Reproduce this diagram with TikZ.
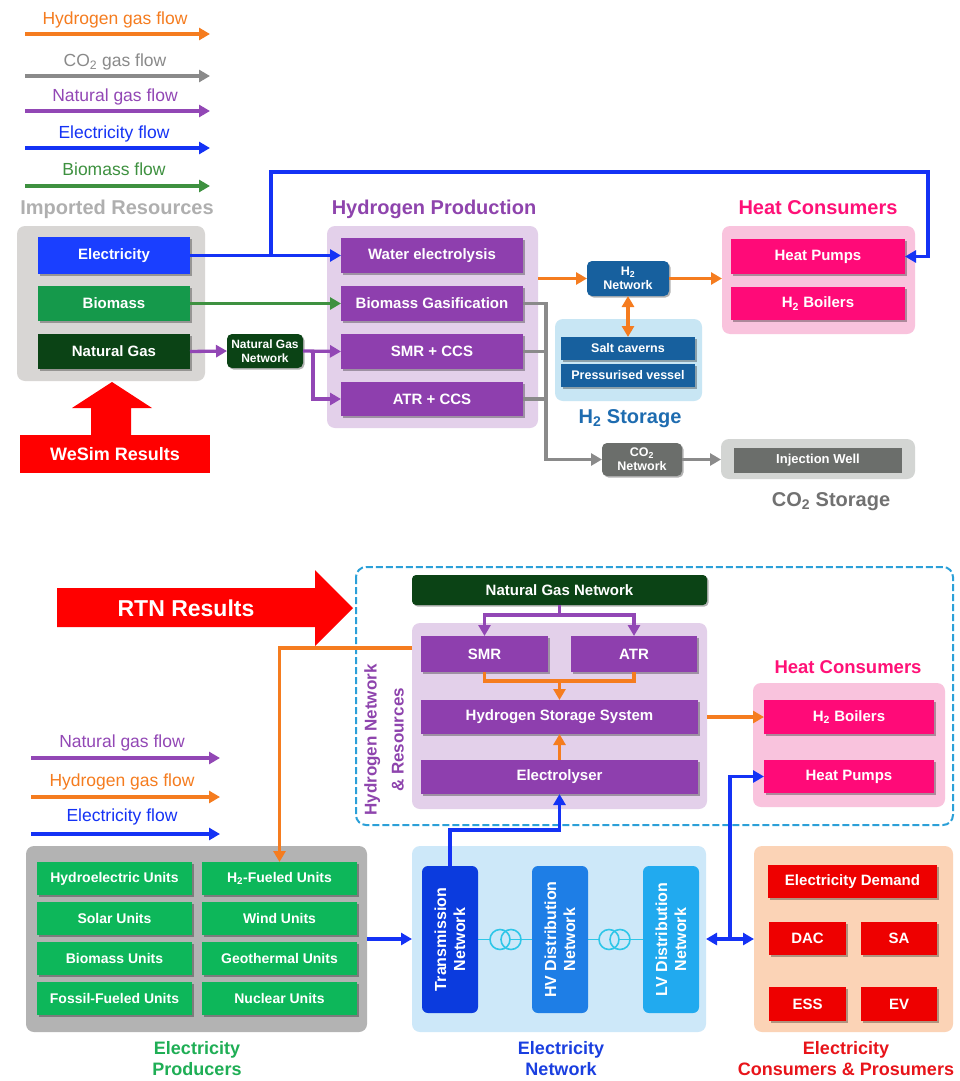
\documentclass[tikz,border=0pt]{standalone}
\usepackage{fontspec}
\setmainfont{Liberation Sans}
\usetikzlibrary{arrows.meta,shadows,calc}
\definecolor{orangeF}{HTML}{F57C1F}
\definecolor{grayF}{HTML}{8A8A8A}
\definecolor{purpF}{HTML}{9247B5}
\definecolor{blueF}{HTML}{1432F5}
\definecolor{greenF}{HTML}{3E9140}
\definecolor{purpbox}{HTML}{8E3FAE}
\definecolor{purplight}{HTML}{E3D0EA}
\definecolor{impgray}{HTML}{D8D6D4}
\definecolor{elecblue}{HTML}{1A3FFF}
\definecolor{biogreen}{HTML}{15994B}
\definecolor{ngdark}{HTML}{0B4315}
\definecolor{h2blue}{HTML}{17609E}
\definecolor{h2light}{HTML}{C8E6F4}
\definecolor{heatlight}{HTML}{F9C3DD}
\definecolor{heatbox}{HTML}{FF0A78}
\definecolor{co2dark}{HTML}{6B6E6B}
\definecolor{co2light}{HTML}{D3D5D3}
\definecolor{resred}{HTML}{FF0000}
\definecolor{dashblue}{HTML}{2BA0D8}
\definecolor{epgray}{HTML}{B3B3B3}
\definecolor{epgreen}{HTML}{0DB75A}
\definecolor{enlight}{HTML}{CDE8F9}
\definecolor{tnblue}{HTML}{0B3BDE}
\definecolor{hvblue}{HTML}{1E7EE6}
\definecolor{lvblue}{HTML}{21AAEF}
\definecolor{trcyan}{HTML}{2FC6E8}
\definecolor{conslight}{HTML}{FBD3B6}
\definecolor{consred}{HTML}{EE0000}
\definecolor{imptitle}{HTML}{AFAFAF}
\definecolor{h2ptitle}{HTML}{8E44AD}
\definecolor{heattitle}{HTML}{FF1177}
\definecolor{h2stitle}{HTML}{1E6CB0}
\definecolor{co2title}{HTML}{717171}
\definecolor{eptitle}{HTML}{1FAE55}
\definecolor{entitle}{HTML}{1A3FE0}
\definecolor{constitle}{HTML}{E8141A}
\newcommand{\mkbox}[7]{%
  \pgfmathsetmacro{\bxcx}{(#3+#5)/2}%
  \pgfmathsetmacro{\bxcy}{(#4+#6)/2}%
  \pgfmathsetmacro{\bxw}{#5-#3}%
  \pgfmathsetmacro{\bxh}{#6-#4}%
  \node[#1, minimum width=\bxw pt, minimum height=\bxh pt] (#2) at (\bxcx,\bxcy) {#7};}
\begin{document}
\begin{tikzpicture}[x=1pt,y=-1pt,
  lbl/.style={text=white,font=\bfseries\fontsize{15}{17}\selectfont,align=center,inner sep=0pt,outer sep=0pt},
  shd/.style={drop shadow={shadow xshift=1.5pt,shadow yshift=-1.5pt,opacity=0.3,fill=black}},
  cont/.style={rounded corners=8pt,inner sep=0pt,outer sep=0pt},
  pbox/.style={lbl,fill=purpbox,shd},
  ttl/.style={font=\bfseries\fontsize{20}{24}\selectfont,align=center,inner sep=0pt},
  legtxt/.style={font=\fontsize{17.5}{20}\selectfont,inner sep=0pt},
  fl/.style={line width=3.3pt,-{Triangle[length=11pt,width=12pt]}},
  fln/.style={line width=3.3pt},
  fl2/.style={line width=3.3pt,{Triangle[length=11pt,width=12pt]}-{Triangle[length=11pt,width=12pt]}},
  vtxt/.style={rotate=90,text=white,font=\bfseries\fontsize{16}{19}\selectfont,align=center,inner sep=0pt}
]
\fill[white] (0,0) rectangle (960,1081);
\useasboundingbox (0,0) rectangle (960,1081);

% ---------------- top legend ----------------
\node[legtxt,text=orangeF] (lg1) at (115,20) {Hydrogen gas flow};
\coordinate (lg1a) at (25,34); \coordinate (lg1b) at (210,34);
\draw[fl,orangeF] (lg1a) -- (lg1b);
\node[legtxt,text=grayF] (lg2) at (115,62) {CO\textsubscript{2} gas flow};
\coordinate (lg2a) at (25,76); \coordinate (lg2b) at (210,76);
\draw[fl,grayF] (lg2a) -- (lg2b);
\node[legtxt,text=purpF] (lg3) at (115,97) {Natural gas flow};
\coordinate (lg3a) at (25,111); \coordinate (lg3b) at (210,111);
\draw[fl,purpF] (lg3a) -- (lg3b);
\node[legtxt,text=blueF] (lg4) at (114,134) {Electricity flow};
\coordinate (lg4a) at (25,148); \coordinate (lg4b) at (210,148);
\draw[fl,blueF] (lg4a) -- (lg4b);
\node[legtxt,text=greenF] (lg5) at (114,169) {Biomass flow};
\coordinate (lg5a) at (25,186); \coordinate (lg5b) at (210,186);
\draw[fl,greenF] (lg5a) -- (lg5b);

% ---------------- imported resources ----------------
\node[ttl,text=imptitle] (timp) at (117,209) {Imported Resources};
\mkbox{cont,fill=impgray}{imp}{17}{226}{205}{381}{}
\mkbox{lbl,fill=elecblue,shd}{elec}{38}{237}{190}{274}{Electricity}
\mkbox{lbl,fill=biogreen,shd}{bio}{38}{286}{190}{321}{Biomass}
\mkbox{lbl,fill=ngdark,shd}{ng}{38}{334}{190}{369}{Natural Gas}
\fill[resred] (91,436) -- (91,408) -- (72,408) -- (112,382) -- (152,408) -- (131,408) -- (131,436) -- cycle;
\mkbox{lbl,fill=resred,font=\bfseries\fontsize{18}{20}\selectfont}{wesim}{20}{435}{210}{473}{WeSim Results}
\mkbox{lbl,fill=ngdark,rounded corners=5pt,shd,font=\bfseries\fontsize{12}{14}\selectfont}{ngnet}{227}{334}{303}{368}{Natural Gas\\Network}

% ---------------- hydrogen production ----------------
\node[ttl,text=h2ptitle] (th2p) at (434,209) {Hydrogen Production};
\mkbox{cont,fill=purplight}{h2p}{327}{226}{538}{428}{}
\mkbox{pbox}{we}{341}{238}{523}{273}{Water electrolysis}
\mkbox{pbox}{bg}{341}{286}{523}{321}{Biomass Gasification}
\mkbox{pbox}{smr}{341}{334}{523}{369}{SMR + CCS}
\mkbox{pbox}{atr}{341}{382}{523}{416}{ATR + CCS}

% ---------------- H2 network & storage ----------------
\mkbox{lbl,fill=h2blue,rounded corners=5pt,shd,font=\bfseries\fontsize{12.5}{14}\selectfont}{h2net}{587}{261}{669}{296}{H\textsubscript{2}\\Network}
\mkbox{cont,fill=h2light}{h2s}{555}{319}{702}{401}{}
\mkbox{lbl,fill=h2blue,shd,font=\bfseries\fontsize{12.5}{14}\selectfont}{salt}{561}{337}{695}{360}{Salt caverns}
\mkbox{lbl,fill=h2blue,shd,font=\bfseries\fontsize{12.5}{14}\selectfont}{pv}{561}{364}{695}{387}{Pressurised vessel}
\node[ttl,text=h2stitle] (th2s) at (630,419) {H\textsubscript{2} Storage};

% ---------------- heat consumers (top) ----------------
\node[ttl,text=heattitle] (theat) at (818,208) {Heat Consumers};
\mkbox{cont,fill=heatlight}{heat}{722}{226}{915}{334}{}
\mkbox{lbl,fill=heatbox,shd}{hp}{731}{239}{905}{274}{Heat Pumps}
\mkbox{lbl,fill=heatbox,shd}{hb}{731}{287}{905}{320}{H\textsubscript{2} Boilers}

% ---------------- CO2 ----------------
\mkbox{lbl,fill=co2dark,rounded corners=5pt,shd,font=\bfseries\fontsize{12.5}{14}\selectfont}{co2net}{602}{443}{682}{476}{CO\textsubscript{2}\\Network}
\mkbox{cont,fill=co2light}{co2s}{721}{439}{915}{479}{}
\mkbox{lbl,fill=co2dark,font=\bfseries\fontsize{13}{15}\selectfont}{iw}{734}{448}{902}{473}{Injection Well}
\node[ttl,text=co2title] (tco2) at (831,502) {CO\textsubscript{2} Storage};

% ---------------- top connectors ----------------
\draw[fl,blueF] (elec.east) -- (we.west);
\coordinate (ej) at (271,255.5);
\coordinate (eu1) at (271,172);
\coordinate (eu2) at (928,172);
\draw[fl,blueF] (ej) -- (eu1) -- (eu2) |- (hp.east);
\draw[fl,greenF] (bio.east) -- (bg.west);
\draw[fl,purpF] (ng.east) -- (ngnet.west);
\draw[fl,purpF] (ngnet.east) -- (smr.west);
\coordinate (nb) at (313,351.5);
\draw[fl,purpF] (nb) |- (atr.west);
\draw[fl,orangeF] (h2p.east |- h2net.west) -- (h2net.west);
\draw[fl,orangeF] (h2net.east) -- (heat.west |- h2net.east);
\draw[fl2,orangeF] (h2net.south) -- (salt.north);
\coordinate (gx) at (546,303.5);
\draw[fl,grayF] (bg.east) -- (gx) |- (co2net.west);
\draw[fln,grayF] (smr.east) -- (gx |- smr.east);
\draw[fln,grayF] (atr.east) -- (gx |- atr.east);
\draw[fl,grayF] (co2net.east) -- (co2s.west |- co2net.east);

% ---------------- bottom: RTN ----------------
\fill[resred] (57,588) -- (315,588) -- (315,570) -- (353,608) -- (315,646) -- (315,627) -- (57,627) -- cycle;
\node[lbl,font=\bfseries\fontsize{23}{26}\selectfont] (rtn) at (186,608) {RTN Results};

\draw[dashblue,line width=2pt,dash pattern=on 7pt off 3pt,rounded corners=10pt] (356,567) rectangle (953,825);
\node[vtxt,text=h2ptitle,font=\bfseries\fontsize{17}{27}\selectfont] (thnr) at (384,740) {Hydrogen Network\\\& Resources};

\mkbox{lbl,fill=ngdark,rounded corners=4pt,shd}{ngn2}{412}{575}{707}{605}{Natural Gas Network}
\mkbox{cont,fill=purplight}{h2r}{412}{623}{707}{809}{}
\mkbox{pbox}{smr2}{421}{636}{548}{672}{SMR}
\mkbox{pbox}{atr2}{571}{636}{697}{672}{ATR}
\mkbox{pbox}{hss}{421}{700}{698}{734}{Hydrogen Storage System}
\mkbox{pbox}{ely}{421}{760}{698}{794}{Electrolyser}

\node[ttl,text=heattitle,font=\bfseries\fontsize{18.5}{22}\selectfont] (theat2) at (848,667) {Heat Consumers};
\mkbox{cont,fill=heatlight}{heat2}{753}{683}{945}{807}{}
\mkbox{lbl,fill=heatbox,shd}{hb2}{764}{700}{934}{734}{H\textsubscript{2} Boilers}
\mkbox{lbl,fill=heatbox,shd}{hp2}{764}{760}{934}{793}{Heat Pumps}

% bottom legend
\node[legtxt,text=purpF] (bl1) at (122,743) {Natural gas flow};
\coordinate (bl1a) at (31,758); \coordinate (bl1b) at (220,758);
\draw[fl,purpF] (bl1a) -- (bl1b);
\node[legtxt,text=orangeF] (bl2) at (122,782) {Hydrogen gas flow};
\coordinate (bl2a) at (31,797); \coordinate (bl2b) at (220,797);
\draw[fl,orangeF] (bl2a) -- (bl2b);
\node[legtxt,text=blueF] (bl3) at (122,817) {Electricity flow};
\coordinate (bl3a) at (31,834); \coordinate (bl3b) at (220,834);
\draw[fl,blueF] (bl3a) -- (bl3b);

% electricity producers
\mkbox{cont,fill=epgray}{ep}{26}{846}{367}{1032}{}
\mkbox{lbl,fill=epgreen,shd,font=\bfseries\fontsize{14}{16}\selectfont}{u1}{37}{862}{192}{895}{Hydroelectric Units}
\mkbox{lbl,fill=epgreen,shd,font=\bfseries\fontsize{14}{16}\selectfont}{h2fu}{202}{862}{357}{895}{H\textsubscript{2}-Fueled Units}
\mkbox{lbl,fill=epgreen,shd,font=\bfseries\fontsize{14}{16}\selectfont}{u3}{37}{902}{192}{935}{Solar Units}
\mkbox{lbl,fill=epgreen,shd,font=\bfseries\fontsize{14}{16}\selectfont}{u4}{202}{902}{357}{935}{Wind Units}
\mkbox{lbl,fill=epgreen,shd,font=\bfseries\fontsize{14}{16}\selectfont}{u5}{37}{942}{192}{975}{Biomass Units}
\mkbox{lbl,fill=epgreen,shd,font=\bfseries\fontsize{14}{16}\selectfont}{u6}{202}{942}{357}{975}{Geothermal Units}
\mkbox{lbl,fill=epgreen,shd,font=\bfseries\fontsize{14}{16}\selectfont}{u7}{37}{982}{192}{1015}{Fossil-Fueled Units}
\mkbox{lbl,fill=epgreen,shd,font=\bfseries\fontsize{14}{16}\selectfont}{u8}{202}{982}{357}{1015}{Nuclear Units}
\node[ttl,text=eptitle,font=\bfseries\fontsize{18}{21}\selectfont] (tep) at (197,1059) {Electricity\\Producers};

% electricity network
\mkbox{cont,fill=enlight}{en}{412}{846}{706}{1032}{}
\draw[trcyan,line width=1.6pt] (478,939.5) -- (532,939.5);
\draw[trcyan,line width=1.6pt] (588,939.5) -- (643,939.5);
\mkbox{cont,fill=tnblue,rounded corners=6pt}{tn}{422}{866}{478}{1013}{}
\mkbox{cont,fill=hvblue,rounded corners=6pt}{hv}{532}{866}{588}{1013}{}
\mkbox{cont,fill=lvblue,rounded corners=6pt}{lv}{643}{866}{699}{1013}{}
\node[vtxt] (tnt) at (tn.center) {Transmission\\Network};
\node[vtxt] (hvt) at (hv.center) {HV Distribution\\Network};
\node[vtxt] (lvt) at (lv.center) {LV Distribution\\Network};
\draw[trcyan,line width=1.6pt,fill=enlight] (500,939.5) circle[radius=10pt];
\draw[trcyan,line width=1.6pt] (511,939.5) circle[radius=10pt];
\draw[trcyan,line width=1.6pt,fill=enlight] (609,939.5) circle[radius=10pt];
\draw[trcyan,line width=1.6pt] (620,939.5) circle[radius=10pt];
\node[ttl,text=entitle,font=\bfseries\fontsize{18}{21}\selectfont] (ten) at (561,1059) {Electricity\\Network};

% consumers
\mkbox{cont,fill=conslight}{cons}{754}{846}{953}{1032}{}
\mkbox{lbl,fill=consred,shd}{ed}{768}{865}{937}{898}{Electricity Demand}
\mkbox{lbl,fill=consred,shd}{dac}{769}{922}{846}{955}{DAC}
\mkbox{lbl,fill=consred,shd}{sa}{861}{922}{937}{955}{SA}
\mkbox{lbl,fill=consred,shd}{ess}{769}{987}{846}{1021}{ESS}
\mkbox{lbl,fill=consred,shd}{ev}{861}{987}{937}{1021}{EV}
\node[ttl,text=constitle,font=\bfseries\fontsize{18}{21}\selectfont] (tcons) at (846,1059) {Electricity\\Consumers \& Prosumers};

% ---------------- bottom connectors ----------------
\coordinate (pj) at (559.5,615);
\draw[fln,purpF] (ngn2.south) -- (pj);
\draw[fl,purpF] (pj) -| (smr2.north);
\draw[fl,purpF] (pj) -| (atr2.north);
\coordinate (oj) at (559.5,681);
\draw[fln,orangeF] (smr2.south) |- (oj);
\draw[fln,orangeF] (atr2.south) |- (oj);
\draw[fl,orangeF] (oj) -- (hss.north);
\draw[fl,orangeF] (ely.north) -- (hss.south);
\draw[fl,orangeF] (h2r.east |- hss.east) -- (hb2.west);
\coordinate (ol) at (412,648);
\draw[fl,orangeF] (ol) -| (h2fu.north);
\draw[fl,blueF] (tn.north) -- ++(0,-36) -| (ely.south);
\draw[fl,blueF] (ep.east) -- (en.west);
\draw[fl2,blueF] (en.east) -- (cons.west);
\coordinate (bj) at (730,939);
\draw[fl,blueF] (bj) |- (hp2.west);
\end{tikzpicture}
\end{document}
